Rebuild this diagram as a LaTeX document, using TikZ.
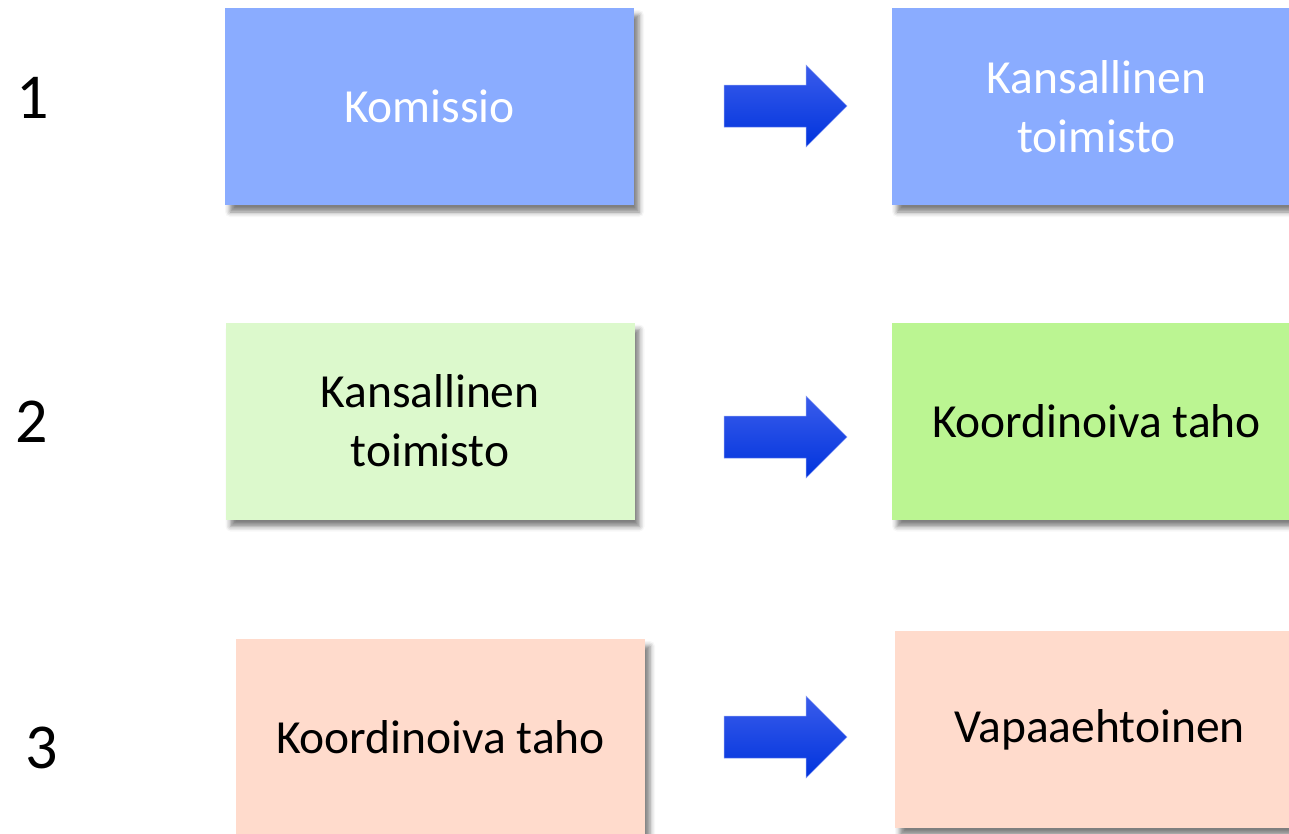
\documentclass[tikz,border=0pt]{standalone}
\usepackage{fontspec}
\setmainfont{Carlito}
\usetikzlibrary{shadows.blur}
\definecolor{komblue}{HTML}{8AACFF}
\definecolor{palegreen}{HTML}{DCF9CC}
\definecolor{midgreen}{HTML}{BBF592}
\definecolor{peach}{HTML}{FFDBCC}
\definecolor{arrowtop}{HTML}{3A5CEB}
\definecolor{arrowbot}{HTML}{0033DD}
\newcommand{\blockarrow}[3]{%
  \draw[flow] (#2,#3) coordinate (#1) ++(0,-21) -- ++(82,0) -- ++(0,-20)
    -- ++(41,41) -- ++(-41,41) -- ++(0,-20) -- ++(-82,0) -- cycle;}
\begin{document}
\begin{tikzpicture}[x=1pt,y=-1pt,
    box/.style={minimum width=409pt,minimum height=197pt,inner sep=0pt,align=center,
      font=\fontsize{47.5}{59}\selectfont,
      blur shadow={shadow xshift=5pt,shadow yshift=-7pt,shadow blur radius=5pt,shadow opacity=50}},
    flow/.style={top color=arrowtop,middle color=arrowbot!85!arrowtop,bottom color=arrowbot,
      draw=arrowtop!60!white,line width=0.5pt},
    num/.style={font=\fontsize{64}{70}\selectfont}]
  \clip (0,0) rectangle (1289,833);
  % row numbers
  \node[num] (n1) at (33,98) {1};
  \node[num] (n2) at (32,422) {2};
  \node[num] (n3) at (42,748) {3};
  % boxes
  \node[box,fill=komblue,text=white] (kom) at (429.5,106.5) {Komissio};
  \node[box,fill=komblue,text=white] (kans1) at (1096.5,106.5) {Kansallinen\\toimisto};
  \node[box,fill=palegreen] (kans2) at (430,421) {Kansallinen\\toimisto};
  \node[box,fill=midgreen] (koord2) at (1096.5,421) {Koordinoiva taho};
  \node[box,fill=peach] (koord3) at (440.5,737.5) {Koordinoiva taho};
  \node[box,fill=peach] (vapaa) at (1099.5,729.5) {Vapaaehtoinen};
  % arrows
  \blockarrow{a1}{724}{106}
  \blockarrow{a2}{724}{437}
  \blockarrow{a3}{724}{737}
\end{tikzpicture}
\end{document}
